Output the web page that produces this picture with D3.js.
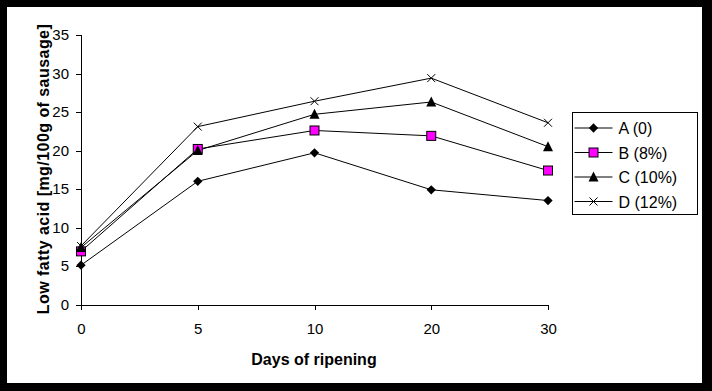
<!DOCTYPE html>
<html>
<head>
<meta charset="utf-8">
<script src="https://cdn.jsdelivr.net/npm/d3@7"></script>
<style>
	body { margin: 0; background: #000; }
	svg { display: block; font-family: "Liberation Sans", Arial, sans-serif; }
</style>
</head>
<body>
<svg id="chart" width="712" height="391"></svg>
<script>
// data
const days = ["0", "5", "10", "20", "30"];
const seriesNames = ["A (0)", "B (8%)", "C (10%)", "D (12%)"];
const valuesA = [5.1, 16.0, 19.7, 14.9, 13.5];
const valuesB = [6.9, 20.2, 22.6, 21.9, 17.4];
const valuesC = [7.4, 20.0, 24.7, 26.3, 20.5];
const valuesD = [7.6, 23.1, 26.4, 29.4, 23.6];
const yTicks = [0, 5, 10, 15, 20, 25, 30, 35];

const series = [
	{ name: seriesNames[0], values: valuesA, marker: "diamond" },
	{ name: seriesNames[1], values: valuesB, marker: "square" },
	{ name: seriesNames[2], values: valuesC, marker: "triangle" },
	{ name: seriesNames[3], values: valuesD, marker: "cross" }
];

const svg = d3.select("#chart");

// white page inside the black frame
svg.append("rect")
	.attr("x", 7).attr("y", 7)
	.attr("width", 695).attr("height", 376)
	.attr("fill", "#fff");

const x = d3.scalePoint().domain(days).range([81, 548]);
const y = d3.scaleLinear().domain([0, 35]).range([304.5, 35]);

// y axis
const yAxis = svg.append("g")
	.attr("transform", "translate(81,0)")
	.call(d3.axisLeft(y).tickValues(yTicks).tickSize(5).tickPadding(7));
// x axis
const xAxis = svg.append("g")
	.attr("transform", "translate(0,304.5)")
	.call(d3.axisBottom(x).tickSize(5).tickPadding(14));

[yAxis, xAxis].forEach(g => {
	g.select(".domain").attr("stroke", "#000").attr("shape-rendering", "crispEdges");
	g.selectAll(".tick line").attr("stroke", "#000").attr("shape-rendering", "crispEdges");
	g.selectAll(".tick text")
		.attr("font-family", "'Liberation Sans', Arial, sans-serif")
		.attr("font-size", 15)
		.attr("fill", "#000");
});

// axis titles
svg.append("text")
	.attr("x", 314).attr("y", 365)
	.attr("text-anchor", "middle")
	.attr("font-size", 16).attr("font-weight", "bold")
	.text("Days of ripening");

svg.append("text")
	.attr("transform", "translate(49,169) rotate(-90)")
	.attr("text-anchor", "middle")
	.attr("font-size", 16).attr("font-weight", "bold")
	.attr("letter-spacing", 0.45)
	.text("Low fatty acid [mg/100g of sausage]");

function drawMarker(g, type) {
	if (type === "diamond") {
		g.append("path")
			.attr("d", d3.symbol().type(d3.symbolDiamond2).size(55)())
			.attr("fill", "#000");
	} else if (type === "square") {
		g.append("rect")
			.attr("x", -4.5).attr("y", -4.5)
			.attr("width", 9).attr("height", 9)
			.attr("fill", "#ff00ff").attr("stroke", "#000").attr("stroke-width", 1);
	} else if (type === "triangle") {
		g.append("path")
			.attr("d", "M0,-5.5L5,4.5L-5,4.5Z")
			.attr("fill", "#000");
	} else {
		g.append("path")
			.attr("d", "M-4,-4L4,4M-4,4L4,-4")
			.attr("stroke", "#000").attr("stroke-width", 1).attr("fill", "none");
	}
}

const line = d3.line()
	.x((d, i) => x(days[i]))
	.y(d => y(d));

series.forEach(s => {
	svg.append("path")
		.attr("d", line(s.values))
		.attr("fill", "none")
		.attr("stroke", "#000")
		.attr("stroke-width", 1);
});

series.forEach(s => {
	s.values.forEach((v, i) => {
		const g = svg.append("g")
			.attr("transform", "translate(" + x(days[i]) + "," + y(v) + ")");
		drawMarker(g, s.marker);
	});
});

// legend
const legend = svg.append("g").attr("transform", "translate(572.5,112.5)");
legend.append("rect")
	.attr("width", 125).attr("height", 102)
	.attr("fill", "#fff").attr("stroke", "#000").attr("stroke-width", 1);

series.forEach((s, i) => {
	const ly = 15.5 + i * 24.5;
	const row = legend.append("g").attr("transform", "translate(0," + ly + ")");
	row.append("line")
		.attr("x1", 2).attr("x2", 40)
		.attr("stroke", "#000").attr("stroke-width", 1);
	const m = row.append("g").attr("transform", "translate(21,0)");
	drawMarker(m, s.marker);
	row.append("text")
		.attr("x", 46).attr("y", 6)
		.attr("font-size", 16)
		.text(s.name);
});
</script>
</body>
</html>
